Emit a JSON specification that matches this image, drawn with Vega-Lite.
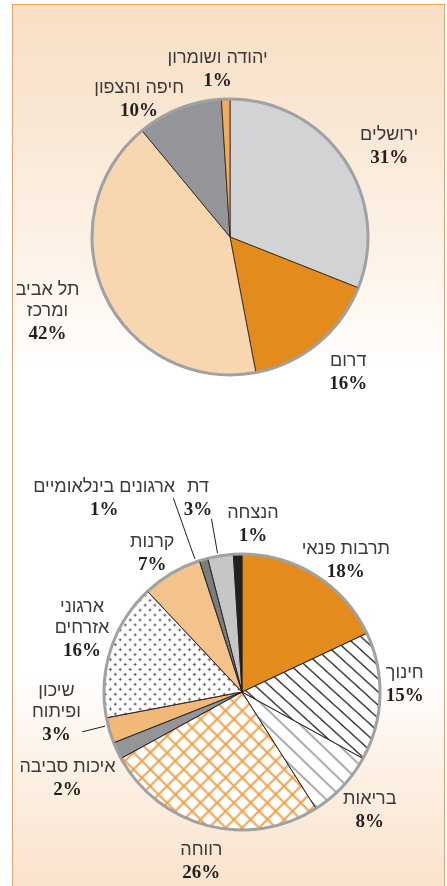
{
"$schema":"https://vega.github.io/schema/vega-lite/v6.json",
"width":431,"height":881,
"autosize":{"type":"none"},
"padding":{"left":13,"top":5,"right":3,"bottom":0},
"background":"#ffffff",
"config":{"view":{"stroke":"#eea24b","strokeWidth":2,"fill":"#fdf5ec"}},
"data":{"values":[
{"chart":"top","cat":"ירושלים","label":"ירושלים","share":0.31},
{"chart":"top","cat":"דרום","label":"דרום","share":0.16},
{"chart":"top","cat":"תל אביב ומרכז","label":"תל אביב\nומרכז","share":0.42},
{"chart":"top","cat":"חיפה והצפון","label":"חיפה והצפון","share":0.10},
{"chart":"top","cat":"יהודה ושומרון","label":"יהודה ושומרון","share":0.01},
{"chart":"bottom","cat":"תרבות פנאי","label":"תרבות פנאי","share":0.18},
{"chart":"bottom","cat":"חינוך","label":"חינוך","share":0.15},
{"chart":"bottom","cat":"בריאות","label":"בריאות","share":0.08},
{"chart":"bottom","cat":"רווחה","label":"רווחה","share":0.26},
{"chart":"bottom","cat":"איכות סביבה","label":"איכות סביבה","share":0.02},
{"chart":"bottom","cat":"שיכון ופיתוח","label":"שיכון\nופיתוח","share":0.03},
{"chart":"bottom","cat":"ארגוני אזרחים","label":"ארגוני\nאזרחים","share":0.16},
{"chart":"bottom","cat":"קרנות","label":"קרנות","share":0.07},
{"chart":"bottom","cat":"ארגונים בינלאומיים","label":"ארגונים בינלאומיים","share":0.01},
{"chart":"bottom","cat":"דת","label":"דת","share":0.03},
{"chart":"bottom","cat":"הנצחה","label":"הנצחה","share":0.01}
]},
"layer":[
{"transform":[{"filter":"datum.cat==='ירושלים'"}],
 "mark":{"type":"rect","color":{"x1":1,"y1":1,"x2":1,"y2":0,"gradient":"linear","stops":[{"offset":0,"color":"#fae3cd"},{"offset":0.12,"color":"#fcefe2"},{"offset":0.24,"color":"#ffffff"},{"offset":0.58,"color":"#ffffff"},{"offset":0.7,"color":"#fdf4ea"},{"offset":0.88,"color":"#f9e6d2"},{"offset":1,"color":"#f7dfc4"}]}},
 "encoding":{"x":{"value":0},"x2":{"value":"width"},"y":{"value":0},"y2":{"value":"height"}}},
{"encoding":{
  "x":{"field":"chart","type":"nominal","axis":null,"scale":{"type":"point","domain":["top","bottom"],"range":[217,229],"padding":0}},
  "y":{"field":"chart","type":"nominal","axis":null,"scale":{"type":"point","domain":["top","bottom"],"padding":0.46813,"align":0.5446}},
  "theta":{"field":"share","type":"quantitative","stack":true,"scale":{"domain":[0,1]}}
 },
 "layer":[
{"transform":[{"filter":"datum.chart==='top'"}],
 "layer":[
  {"mark":{"type":"arc","radius":138,"stroke":"#231f20","strokeWidth":0.8},
   "encoding":{"fill":{"condition":[
     {"test":"datum.cat==='ירושלים'","value":"#d1d3d4"},
     {"test":"datum.cat==='דרום'","value":"#e38b1d"},
     {"test":"datum.cat==='תל אביב ומרכז'","value":"#f8d6b0"},
     {"test":"datum.cat==='חיפה והצפון'","value":"#939598"}],"value":"#f1aa5c"}}},
  {"mark":{"type":"arc","radius":139.5,"radius2":136.5,"fill":"#a0a1a3"}},
  {"mark":{"type":"text","radius":184,"thetaOffset":0.0716,"font":"Liberation Sans","fontSize":18,"fill":"#3a3a3a","baseline":"alphabetic","align":"center","dy":-5,"lineBreak":"\n","lineHeight":21},
   "encoding":{"text":{"value":{"expr":"datum.cat === 'ירושלים' ? datum.label : ''"}}}},
  {"mark":{"type":"text","radius":184,"thetaOffset":0.0716,"font":"Liberation Serif","fontWeight":"bold","fontSize":19,"fill":"#231f20","baseline":"alphabetic","align":"center","dy":18},
   "encoding":{"text":{"value":{"expr":"datum.cat === 'ירושלים' ? format(datum.share, '.0%') : ''"}}}},
  {"mark":{"type":"text","radius":179,"thetaOffset":-0.030,"font":"Liberation Sans","fontSize":18,"fill":"#3a3a3a","baseline":"alphabetic","align":"center","dy":-5,"lineBreak":"\n","lineHeight":21},
   "encoding":{"text":{"value":{"expr":"datum.cat === 'דרום' ? datum.label : ''"}}}},
  {"mark":{"type":"text","radius":179,"thetaOffset":-0.030,"font":"Liberation Serif","fontWeight":"bold","fontSize":19,"fill":"#231f20","baseline":"alphabetic","align":"center","dy":18},
   "encoding":{"text":{"value":{"expr":"datum.cat === 'דרום' ? format(datum.share, '.0%') : ''"}}}},
  {"mark":{"type":"text","radius":201,"thetaOffset":0.007,"font":"Liberation Sans","fontSize":18,"fill":"#3a3a3a","baseline":"alphabetic","align":"center","dy":-26,"lineBreak":"\n","lineHeight":21},
   "encoding":{"text":{"value":{"expr":"datum.cat === 'תל אביב ומרכז' ? datum.label : ''"}}}},
  {"mark":{"type":"text","radius":201,"thetaOffset":0.007,"font":"Liberation Serif","fontWeight":"bold","fontSize":19,"fill":"#231f20","baseline":"alphabetic","align":"center","dy":18},
   "encoding":{"text":{"value":{"expr":"datum.cat === 'תל אביב ומרכז' ? format(datum.share, '.0%') : ''"}}}},
  {"mark":{"type":"text","radius":166,"thetaOffset":-0.2025,"font":"Liberation Sans","fontSize":18,"fill":"#3a3a3a","baseline":"alphabetic","align":"center","dy":-5,"lineBreak":"\n","lineHeight":21},
   "encoding":{"text":{"value":{"expr":"datum.cat === 'חיפה והצפון' ? datum.label : ''"}}}},
  {"mark":{"type":"text","radius":166,"thetaOffset":-0.2025,"font":"Liberation Serif","fontWeight":"bold","fontSize":19,"fill":"#231f20","baseline":"alphabetic","align":"center","dy":18},
   "encoding":{"text":{"value":{"expr":"datum.cat === 'חיפה והצפון' ? format(datum.share, '.0%') : ''"}}}},
  {"mark":{"type":"text","radius":169,"thetaOffset":-0.042,"font":"Liberation Sans","fontSize":18,"fill":"#3a3a3a","baseline":"alphabetic","align":"center","dy":-5,"lineBreak":"\n","lineHeight":21},
   "encoding":{"text":{"value":{"expr":"datum.cat === 'יהודה ושומרון' ? datum.label : ''"}}}},
  {"mark":{"type":"text","radius":169,"thetaOffset":-0.042,"font":"Liberation Serif","fontWeight":"bold","fontSize":19,"fill":"#231f20","baseline":"alphabetic","align":"center","dy":18},
   "encoding":{"text":{"value":{"expr":"datum.cat === 'יהודה ושומרון' ? format(datum.share, '.0%') : ''"}}}}
 ]},
{"transform":[{"filter":"datum.chart==='bottom'"}],
 "layer":[
  {"mark":{"type":"arc","radius":138},
   "encoding":{"fill":{"condition":[
     {"test":"datum.cat==='תרבות פנאי'","value":"#e38b1d"},
     {"test":"datum.cat==='חינוך'","value":{"gradient":"linear","x1":0,"y1":1,"x2":1,"y2":0,"stops":[
       {"offset":0.015,"color":"#ffffff"},{"offset":0.022,"color":"#222222"},{"offset":0.029,"color":"#ffffff"},
       {"offset":0.068,"color":"#ffffff"},{"offset":0.075,"color":"#222222"},{"offset":0.082,"color":"#ffffff"},
       {"offset":0.120,"color":"#ffffff"},{"offset":0.127,"color":"#222222"},{"offset":0.134,"color":"#ffffff"},
       {"offset":0.173,"color":"#ffffff"},{"offset":0.180,"color":"#222222"},{"offset":0.187,"color":"#ffffff"},
       {"offset":0.226,"color":"#ffffff"},{"offset":0.233,"color":"#222222"},{"offset":0.240,"color":"#ffffff"},
       {"offset":0.278,"color":"#ffffff"},{"offset":0.285,"color":"#222222"},{"offset":0.292,"color":"#ffffff"},
       {"offset":0.331,"color":"#ffffff"},{"offset":0.338,"color":"#222222"},{"offset":0.345,"color":"#ffffff"},
       {"offset":0.383,"color":"#ffffff"},{"offset":0.390,"color":"#222222"},{"offset":0.397,"color":"#ffffff"},
       {"offset":0.436,"color":"#ffffff"},{"offset":0.443,"color":"#222222"},{"offset":0.450,"color":"#ffffff"},
       {"offset":0.489,"color":"#ffffff"},{"offset":0.496,"color":"#222222"},{"offset":0.503,"color":"#ffffff"},
       {"offset":0.541,"color":"#ffffff"},{"offset":0.548,"color":"#222222"},{"offset":0.555,"color":"#ffffff"},
       {"offset":0.594,"color":"#ffffff"},{"offset":0.601,"color":"#222222"},{"offset":0.608,"color":"#ffffff"},
       {"offset":0.647,"color":"#ffffff"},{"offset":0.654,"color":"#222222"},{"offset":0.661,"color":"#ffffff"},
       {"offset":0.699,"color":"#ffffff"},{"offset":0.706,"color":"#222222"},{"offset":0.713,"color":"#ffffff"},
       {"offset":0.752,"color":"#ffffff"},{"offset":0.759,"color":"#222222"},{"offset":0.766,"color":"#ffffff"},
       {"offset":0.804,"color":"#ffffff"},{"offset":0.811,"color":"#222222"},{"offset":0.818,"color":"#ffffff"},
       {"offset":0.857,"color":"#ffffff"},{"offset":0.864,"color":"#222222"},{"offset":0.871,"color":"#ffffff"},
       {"offset":0.910,"color":"#ffffff"},{"offset":0.917,"color":"#222222"},{"offset":0.924,"color":"#ffffff"},
       {"offset":0.962,"color":"#ffffff"},{"offset":0.969,"color":"#222222"},{"offset":0.976,"color":"#ffffff"}]}},
     {"test":"datum.cat==='בריאות'","value":{"gradient":"linear","x1":0,"y1":1,"x2":1,"y2":0,"stops":[
       {"offset":0.020,"color":"#ffffff"},{"offset":0.030,"color":"#999999"},{"offset":0.040,"color":"#ffffff"},
       {"offset":0.091,"color":"#ffffff"},{"offset":0.101,"color":"#999999"},{"offset":0.111,"color":"#ffffff"},
       {"offset":0.163,"color":"#ffffff"},{"offset":0.173,"color":"#999999"},{"offset":0.183,"color":"#ffffff"},
       {"offset":0.234,"color":"#ffffff"},{"offset":0.244,"color":"#999999"},{"offset":0.254,"color":"#ffffff"},
       {"offset":0.306,"color":"#ffffff"},{"offset":0.316,"color":"#999999"},{"offset":0.326,"color":"#ffffff"},
       {"offset":0.377,"color":"#ffffff"},{"offset":0.387,"color":"#999999"},{"offset":0.397,"color":"#ffffff"},
       {"offset":0.449,"color":"#ffffff"},{"offset":0.459,"color":"#999999"},{"offset":0.469,"color":"#ffffff"},
       {"offset":0.520,"color":"#ffffff"},{"offset":0.530,"color":"#999999"},{"offset":0.540,"color":"#ffffff"},
       {"offset":0.591,"color":"#ffffff"},{"offset":0.601,"color":"#999999"},{"offset":0.611,"color":"#ffffff"},
       {"offset":0.663,"color":"#ffffff"},{"offset":0.673,"color":"#999999"},{"offset":0.683,"color":"#ffffff"},
       {"offset":0.734,"color":"#ffffff"},{"offset":0.744,"color":"#999999"},{"offset":0.754,"color":"#ffffff"},
       {"offset":0.806,"color":"#ffffff"},{"offset":0.816,"color":"#999999"},{"offset":0.826,"color":"#ffffff"},
       {"offset":0.877,"color":"#ffffff"},{"offset":0.887,"color":"#999999"},{"offset":0.897,"color":"#ffffff"},
       {"offset":0.949,"color":"#ffffff"},{"offset":0.959,"color":"#999999"},{"offset":0.969,"color":"#ffffff"}]}},
     {"test":"datum.cat==='רווחה'","value":{"gradient":"linear","x1":0,"y1":0,"x2":1.2,"y2":0.85,"stops":[
       {"offset":0.010,"color":"#ffffff"},{"offset":0.018,"color":"#ef9f45"},{"offset":0.026,"color":"#ffffff"},
       {"offset":0.058,"color":"#ffffff"},{"offset":0.066,"color":"#ef9f45"},{"offset":0.074,"color":"#ffffff"},
       {"offset":0.105,"color":"#ffffff"},{"offset":0.113,"color":"#ef9f45"},{"offset":0.121,"color":"#ffffff"},
       {"offset":0.153,"color":"#ffffff"},{"offset":0.161,"color":"#ef9f45"},{"offset":0.169,"color":"#ffffff"},
       {"offset":0.200,"color":"#ffffff"},{"offset":0.208,"color":"#ef9f45"},{"offset":0.216,"color":"#ffffff"},
       {"offset":0.248,"color":"#ffffff"},{"offset":0.256,"color":"#ef9f45"},{"offset":0.264,"color":"#ffffff"},
       {"offset":0.296,"color":"#ffffff"},{"offset":0.304,"color":"#ef9f45"},{"offset":0.312,"color":"#ffffff"},
       {"offset":0.343,"color":"#ffffff"},{"offset":0.351,"color":"#ef9f45"},{"offset":0.359,"color":"#ffffff"},
       {"offset":0.391,"color":"#ffffff"},{"offset":0.399,"color":"#ef9f45"},{"offset":0.407,"color":"#ffffff"},
       {"offset":0.439,"color":"#ffffff"},{"offset":0.447,"color":"#ef9f45"},{"offset":0.455,"color":"#ffffff"},
       {"offset":0.486,"color":"#ffffff"},{"offset":0.494,"color":"#ef9f45"},{"offset":0.502,"color":"#ffffff"},
       {"offset":0.534,"color":"#ffffff"},{"offset":0.542,"color":"#ef9f45"},{"offset":0.550,"color":"#ffffff"},
       {"offset":0.581,"color":"#ffffff"},{"offset":0.589,"color":"#ef9f45"},{"offset":0.597,"color":"#ffffff"},
       {"offset":0.629,"color":"#ffffff"},{"offset":0.637,"color":"#ef9f45"},{"offset":0.645,"color":"#ffffff"},
       {"offset":0.677,"color":"#ffffff"},{"offset":0.685,"color":"#ef9f45"},{"offset":0.693,"color":"#ffffff"},
       {"offset":0.724,"color":"#ffffff"},{"offset":0.732,"color":"#ef9f45"},{"offset":0.740,"color":"#ffffff"},
       {"offset":0.772,"color":"#ffffff"},{"offset":0.780,"color":"#ef9f45"},{"offset":0.788,"color":"#ffffff"},
       {"offset":0.820,"color":"#ffffff"},{"offset":0.828,"color":"#ef9f45"},{"offset":0.836,"color":"#ffffff"},
       {"offset":0.867,"color":"#ffffff"},{"offset":0.875,"color":"#ef9f45"},{"offset":0.883,"color":"#ffffff"},
       {"offset":0.915,"color":"#ffffff"},{"offset":0.923,"color":"#ef9f45"},{"offset":0.931,"color":"#ffffff"},
       {"offset":0.962,"color":"#ffffff"},{"offset":0.970,"color":"#ef9f45"},{"offset":0.978,"color":"#ffffff"}]}},
     {"test":"datum.cat==='ארגוני אזרחים'","value":{"gradient":"linear","x1":0,"y1":0,"x2":1.092,"y2":1,"stops":[
       {"offset":0.010,"color":"#ffffff"},{"offset":0.019,"color":"#3c3c3c"},{"offset":0.028,"color":"#ffffff"},
       {"offset":0.046,"color":"#ffffff"},{"offset":0.055,"color":"#3c3c3c"},{"offset":0.064,"color":"#ffffff"},
       {"offset":0.081,"color":"#ffffff"},{"offset":0.090,"color":"#3c3c3c"},{"offset":0.099,"color":"#ffffff"},
       {"offset":0.117,"color":"#ffffff"},{"offset":0.126,"color":"#3c3c3c"},{"offset":0.135,"color":"#ffffff"},
       {"offset":0.153,"color":"#ffffff"},{"offset":0.162,"color":"#3c3c3c"},{"offset":0.171,"color":"#ffffff"},
       {"offset":0.189,"color":"#ffffff"},{"offset":0.198,"color":"#3c3c3c"},{"offset":0.207,"color":"#ffffff"},
       {"offset":0.224,"color":"#ffffff"},{"offset":0.233,"color":"#3c3c3c"},{"offset":0.242,"color":"#ffffff"},
       {"offset":0.260,"color":"#ffffff"},{"offset":0.269,"color":"#3c3c3c"},{"offset":0.278,"color":"#ffffff"},
       {"offset":0.296,"color":"#ffffff"},{"offset":0.305,"color":"#3c3c3c"},{"offset":0.314,"color":"#ffffff"},
       {"offset":0.331,"color":"#ffffff"},{"offset":0.340,"color":"#3c3c3c"},{"offset":0.349,"color":"#ffffff"},
       {"offset":0.367,"color":"#ffffff"},{"offset":0.376,"color":"#3c3c3c"},{"offset":0.385,"color":"#ffffff"},
       {"offset":0.403,"color":"#ffffff"},{"offset":0.412,"color":"#3c3c3c"},{"offset":0.421,"color":"#ffffff"},
       {"offset":0.439,"color":"#ffffff"},{"offset":0.448,"color":"#3c3c3c"},{"offset":0.457,"color":"#ffffff"},
       {"offset":0.474,"color":"#ffffff"},{"offset":0.483,"color":"#3c3c3c"},{"offset":0.492,"color":"#ffffff"},
       {"offset":0.510,"color":"#ffffff"},{"offset":0.519,"color":"#3c3c3c"},{"offset":0.528,"color":"#ffffff"},
       {"offset":0.546,"color":"#ffffff"},{"offset":0.555,"color":"#3c3c3c"},{"offset":0.564,"color":"#ffffff"},
       {"offset":0.581,"color":"#ffffff"},{"offset":0.590,"color":"#3c3c3c"},{"offset":0.599,"color":"#ffffff"},
       {"offset":0.617,"color":"#ffffff"},{"offset":0.626,"color":"#3c3c3c"},{"offset":0.635,"color":"#ffffff"},
       {"offset":0.653,"color":"#ffffff"},{"offset":0.662,"color":"#3c3c3c"},{"offset":0.671,"color":"#ffffff"},
       {"offset":0.689,"color":"#ffffff"},{"offset":0.698,"color":"#3c3c3c"},{"offset":0.707,"color":"#ffffff"},
       {"offset":0.724,"color":"#ffffff"},{"offset":0.733,"color":"#3c3c3c"},{"offset":0.742,"color":"#ffffff"},
       {"offset":0.760,"color":"#ffffff"},{"offset":0.769,"color":"#3c3c3c"},{"offset":0.778,"color":"#ffffff"},
       {"offset":0.796,"color":"#ffffff"},{"offset":0.805,"color":"#3c3c3c"},{"offset":0.814,"color":"#ffffff"},
       {"offset":0.831,"color":"#ffffff"},{"offset":0.840,"color":"#3c3c3c"},{"offset":0.849,"color":"#ffffff"},
       {"offset":0.867,"color":"#ffffff"},{"offset":0.876,"color":"#3c3c3c"},{"offset":0.885,"color":"#ffffff"},
       {"offset":0.903,"color":"#ffffff"},{"offset":0.912,"color":"#3c3c3c"},{"offset":0.921,"color":"#ffffff"},
       {"offset":0.939,"color":"#ffffff"},{"offset":0.948,"color":"#3c3c3c"},{"offset":0.957,"color":"#ffffff"},
       {"offset":0.974,"color":"#ffffff"},{"offset":0.983,"color":"#3c3c3c"},{"offset":0.992,"color":"#ffffff"}]}},
     {"test":"datum.cat==='איכות סביבה'","value":"#939598"},
     {"test":"datum.cat==='שיכון ופיתוח'","value":"#f2b877"},
     {"test":"datum.cat==='קרנות'","value":"#f4c38c"},
     {"test":"datum.cat==='ארגונים בינלאומיים'","value":"#7d7d7d"},
     {"test":"datum.cat==='דת'","value":"#c6c6c6"}],"value":"#231f20"}}},
  {"mark":{"type":"arc","radius":138},
   "encoding":{"fill":{"condition":{"test":"datum.cat==='רווחה'","value":{"gradient":"linear","x1":0,"y1":1,"x2":1.2,"y2":0.15,"stops":[
       {"offset":0.010,"color":"rgba(239,159,69,0)"},{"offset":0.018,"color":"#ef9f45"},{"offset":0.026,"color":"rgba(239,159,69,0)"},
       {"offset":0.058,"color":"rgba(239,159,69,0)"},{"offset":0.066,"color":"#ef9f45"},{"offset":0.074,"color":"rgba(239,159,69,0)"},
       {"offset":0.105,"color":"rgba(239,159,69,0)"},{"offset":0.113,"color":"#ef9f45"},{"offset":0.121,"color":"rgba(239,159,69,0)"},
       {"offset":0.153,"color":"rgba(239,159,69,0)"},{"offset":0.161,"color":"#ef9f45"},{"offset":0.169,"color":"rgba(239,159,69,0)"},
       {"offset":0.200,"color":"rgba(239,159,69,0)"},{"offset":0.208,"color":"#ef9f45"},{"offset":0.216,"color":"rgba(239,159,69,0)"},
       {"offset":0.248,"color":"rgba(239,159,69,0)"},{"offset":0.256,"color":"#ef9f45"},{"offset":0.264,"color":"rgba(239,159,69,0)"},
       {"offset":0.296,"color":"rgba(239,159,69,0)"},{"offset":0.304,"color":"#ef9f45"},{"offset":0.312,"color":"rgba(239,159,69,0)"},
       {"offset":0.343,"color":"rgba(239,159,69,0)"},{"offset":0.351,"color":"#ef9f45"},{"offset":0.359,"color":"rgba(239,159,69,0)"},
       {"offset":0.391,"color":"rgba(239,159,69,0)"},{"offset":0.399,"color":"#ef9f45"},{"offset":0.407,"color":"rgba(239,159,69,0)"},
       {"offset":0.439,"color":"rgba(239,159,69,0)"},{"offset":0.447,"color":"#ef9f45"},{"offset":0.455,"color":"rgba(239,159,69,0)"},
       {"offset":0.486,"color":"rgba(239,159,69,0)"},{"offset":0.494,"color":"#ef9f45"},{"offset":0.502,"color":"rgba(239,159,69,0)"},
       {"offset":0.534,"color":"rgba(239,159,69,0)"},{"offset":0.542,"color":"#ef9f45"},{"offset":0.550,"color":"rgba(239,159,69,0)"},
       {"offset":0.581,"color":"rgba(239,159,69,0)"},{"offset":0.589,"color":"#ef9f45"},{"offset":0.597,"color":"rgba(239,159,69,0)"},
       {"offset":0.629,"color":"rgba(239,159,69,0)"},{"offset":0.637,"color":"#ef9f45"},{"offset":0.645,"color":"rgba(239,159,69,0)"},
       {"offset":0.677,"color":"rgba(239,159,69,0)"},{"offset":0.685,"color":"#ef9f45"},{"offset":0.693,"color":"rgba(239,159,69,0)"},
       {"offset":0.724,"color":"rgba(239,159,69,0)"},{"offset":0.732,"color":"#ef9f45"},{"offset":0.740,"color":"rgba(239,159,69,0)"},
       {"offset":0.772,"color":"rgba(239,159,69,0)"},{"offset":0.780,"color":"#ef9f45"},{"offset":0.788,"color":"rgba(239,159,69,0)"},
       {"offset":0.820,"color":"rgba(239,159,69,0)"},{"offset":0.828,"color":"#ef9f45"},{"offset":0.836,"color":"rgba(239,159,69,0)"},
       {"offset":0.867,"color":"rgba(239,159,69,0)"},{"offset":0.875,"color":"#ef9f45"},{"offset":0.883,"color":"rgba(239,159,69,0)"},
       {"offset":0.915,"color":"rgba(239,159,69,0)"},{"offset":0.923,"color":"#ef9f45"},{"offset":0.931,"color":"rgba(239,159,69,0)"},
       {"offset":0.962,"color":"rgba(239,159,69,0)"},{"offset":0.970,"color":"#ef9f45"},{"offset":0.978,"color":"rgba(239,159,69,0)"}]}},"value":"transparent"}}},
  {"mark":{"type":"arc","radius":138,"blend":"lighten"},
   "encoding":{"fill":{"condition":{"test":"datum.cat==='ארגוני אזרחים'","value":{"gradient":"linear","x1":0,"y1":1,"x2":1.092,"y2":0.0001,"stops":[
       {"offset":0.010,"color":"#ffffff"},{"offset":0.019,"color":"#3c3c3c"},{"offset":0.028,"color":"#ffffff"},
       {"offset":0.046,"color":"#ffffff"},{"offset":0.055,"color":"#3c3c3c"},{"offset":0.064,"color":"#ffffff"},
       {"offset":0.081,"color":"#ffffff"},{"offset":0.090,"color":"#3c3c3c"},{"offset":0.099,"color":"#ffffff"},
       {"offset":0.117,"color":"#ffffff"},{"offset":0.126,"color":"#3c3c3c"},{"offset":0.135,"color":"#ffffff"},
       {"offset":0.153,"color":"#ffffff"},{"offset":0.162,"color":"#3c3c3c"},{"offset":0.171,"color":"#ffffff"},
       {"offset":0.189,"color":"#ffffff"},{"offset":0.198,"color":"#3c3c3c"},{"offset":0.207,"color":"#ffffff"},
       {"offset":0.224,"color":"#ffffff"},{"offset":0.233,"color":"#3c3c3c"},{"offset":0.242,"color":"#ffffff"},
       {"offset":0.260,"color":"#ffffff"},{"offset":0.269,"color":"#3c3c3c"},{"offset":0.278,"color":"#ffffff"},
       {"offset":0.296,"color":"#ffffff"},{"offset":0.305,"color":"#3c3c3c"},{"offset":0.314,"color":"#ffffff"},
       {"offset":0.331,"color":"#ffffff"},{"offset":0.340,"color":"#3c3c3c"},{"offset":0.349,"color":"#ffffff"},
       {"offset":0.367,"color":"#ffffff"},{"offset":0.376,"color":"#3c3c3c"},{"offset":0.385,"color":"#ffffff"},
       {"offset":0.403,"color":"#ffffff"},{"offset":0.412,"color":"#3c3c3c"},{"offset":0.421,"color":"#ffffff"},
       {"offset":0.439,"color":"#ffffff"},{"offset":0.448,"color":"#3c3c3c"},{"offset":0.457,"color":"#ffffff"},
       {"offset":0.474,"color":"#ffffff"},{"offset":0.483,"color":"#3c3c3c"},{"offset":0.492,"color":"#ffffff"},
       {"offset":0.510,"color":"#ffffff"},{"offset":0.519,"color":"#3c3c3c"},{"offset":0.528,"color":"#ffffff"},
       {"offset":0.546,"color":"#ffffff"},{"offset":0.555,"color":"#3c3c3c"},{"offset":0.564,"color":"#ffffff"},
       {"offset":0.581,"color":"#ffffff"},{"offset":0.590,"color":"#3c3c3c"},{"offset":0.599,"color":"#ffffff"},
       {"offset":0.617,"color":"#ffffff"},{"offset":0.626,"color":"#3c3c3c"},{"offset":0.635,"color":"#ffffff"},
       {"offset":0.653,"color":"#ffffff"},{"offset":0.662,"color":"#3c3c3c"},{"offset":0.671,"color":"#ffffff"},
       {"offset":0.689,"color":"#ffffff"},{"offset":0.698,"color":"#3c3c3c"},{"offset":0.707,"color":"#ffffff"},
       {"offset":0.724,"color":"#ffffff"},{"offset":0.733,"color":"#3c3c3c"},{"offset":0.742,"color":"#ffffff"},
       {"offset":0.760,"color":"#ffffff"},{"offset":0.769,"color":"#3c3c3c"},{"offset":0.778,"color":"#ffffff"},
       {"offset":0.796,"color":"#ffffff"},{"offset":0.805,"color":"#3c3c3c"},{"offset":0.814,"color":"#ffffff"},
       {"offset":0.831,"color":"#ffffff"},{"offset":0.840,"color":"#3c3c3c"},{"offset":0.849,"color":"#ffffff"},
       {"offset":0.867,"color":"#ffffff"},{"offset":0.876,"color":"#3c3c3c"},{"offset":0.885,"color":"#ffffff"},
       {"offset":0.903,"color":"#ffffff"},{"offset":0.912,"color":"#3c3c3c"},{"offset":0.921,"color":"#ffffff"},
       {"offset":0.939,"color":"#ffffff"},{"offset":0.948,"color":"#3c3c3c"},{"offset":0.957,"color":"#ffffff"},
       {"offset":0.974,"color":"#ffffff"},{"offset":0.983,"color":"#3c3c3c"},{"offset":0.992,"color":"#ffffff"}]}},"value":"transparent"}}},
  {"mark":{"type":"arc","radius":138,"fill":"transparent","stroke":"#231f20","strokeWidth":0.8}},
  {"mark":{"type":"arc","radius":139.5,"radius2":136.5,"fill":"#a0a1a3"}},
  {"mark":{"type":"arc","radius":206,"radius2":141,"thetaOffset":-0.02618,"fill":"transparent","strokeWidth":1,"strokeDash":[0,13.3,64.6,3000]},
   "encoding":{"stroke":{"condition":{"test":"datum.cat==='ארגונים בינלאומיים'","value":"#231f20"},"value":"transparent"}}},
  {"mark":{"type":"arc","radius":176,"radius2":141,"thetaOffset":0.0768,"fill":"transparent","strokeWidth":1,"strokeDash":[0,33.5,34.6,3000]},
   "encoding":{"stroke":{"condition":{"test":"datum.cat==='דת'","value":"#231f20"},"value":"transparent"}}},
  {"mark":{"type":"arc","radius":165,"radius2":141,"thetaOffset":0.1326,"fill":"transparent","strokeWidth":1,"strokeDash":[0,31.4,23.6,3000]},
   "encoding":{"stroke":{"condition":{"test":"datum.cat==='שיכון ופיתוח'","value":"#231f20"},"value":"transparent"}}},
  {"mark":{"type":"text","radius":173,"thetaOffset":-0.014,"font":"Liberation Sans","fontSize":18,"fill":"#3a3a3a","baseline":"alphabetic","align":"center","dy":-5,"lineBreak":"\n","lineHeight":21},
   "encoding":{"text":{"value":{"expr":"indexof(['בריאות','רווחה'], datum.cat) >= 0 ? datum.label : ''"}}}},
  {"mark":{"type":"text","radius":173,"thetaOffset":-0.014,"font":"Liberation Serif","fontWeight":"bold","fontSize":19,"fill":"#231f20","baseline":"alphabetic","align":"center","dy":18},
   "encoding":{"text":{"value":{"expr":"indexof(['בריאות','רווחה'], datum.cat) >= 0 ? format(datum.share, '.0%') : ''"}}}},
  {"mark":{"type":"text","radius":163,"thetaOffset":-0.0873,"font":"Liberation Sans","fontSize":18,"fill":"#3a3a3a","baseline":"alphabetic","align":"center","dy":-5,"lineBreak":"\n","lineHeight":21},
   "encoding":{"text":{"value":{"expr":"datum.cat === 'חינוך' ? datum.label : ''"}}}},
  {"mark":{"type":"text","radius":163,"thetaOffset":-0.0873,"font":"Liberation Serif","fontWeight":"bold","fontSize":19,"fill":"#231f20","baseline":"alphabetic","align":"center","dy":18},
   "encoding":{"text":{"value":{"expr":"datum.cat === 'חינוך' ? format(datum.share, '.0%') : ''"}}}},
  {"mark":{"type":"text","radius":166,"thetaOffset":-0.037,"font":"Liberation Sans","fontSize":18,"fill":"#3a3a3a","baseline":"alphabetic","align":"center","dy":-5,"lineBreak":"\n","lineHeight":21},
   "encoding":{"text":{"value":{"expr":"datum.cat === 'קרנות' ? datum.label : ''"}}}},
  {"mark":{"type":"text","radius":166,"thetaOffset":-0.037,"font":"Liberation Serif","fontWeight":"bold","fontSize":19,"fill":"#231f20","baseline":"alphabetic","align":"center","dy":18},
   "encoding":{"text":{"value":{"expr":"datum.cat === 'קרנות' ? format(datum.share, '.0%') : ''"}}}},
  {"mark":{"type":"text","radius":169,"thetaOffset":0.096,"font":"Liberation Sans","fontSize":18,"fill":"#3a3a3a","baseline":"alphabetic","align":"center","dy":-5,"lineBreak":"\n","lineHeight":21},
   "encoding":{"text":{"value":{"expr":"indexof(['תרבות פנאי','הנצחה'], datum.cat) >= 0 ? datum.label : ''"}}}},
  {"mark":{"type":"text","radius":169,"thetaOffset":0.096,"font":"Liberation Serif","fontWeight":"bold","fontSize":19,"fill":"#231f20","baseline":"alphabetic","align":"center","dy":18},
   "encoding":{"text":{"value":{"expr":"indexof(['תרבות פנאי','הנצחה'], datum.cat) >= 0 ? format(datum.share, '.0%') : ''"}}}},
  {"mark":{"type":"text","radius":169,"thetaOffset":0.014,"font":"Liberation Sans","fontSize":18,"fill":"#3a3a3a","baseline":"alphabetic","align":"center","dy":-26,"lineBreak":"\n","lineHeight":21},
   "encoding":{"text":{"value":{"expr":"datum.cat === 'ארגוני אזרחים' ? datum.label : ''"}}}},
  {"mark":{"type":"text","radius":169,"thetaOffset":0.014,"font":"Liberation Serif","fontWeight":"bold","fontSize":19,"fill":"#231f20","baseline":"alphabetic","align":"center","dy":18},
   "encoding":{"text":{"value":{"expr":"datum.cat === 'ארגוני אזרחים' ? format(datum.share, '.0%') : ''"}}}},
  {"mark":{"type":"text","radius":194,"thetaOffset":-0.012,"font":"Liberation Sans","fontSize":18,"fill":"#3a3a3a","baseline":"alphabetic","align":"center","dy":-5,"lineBreak":"\n","lineHeight":21},
   "encoding":{"text":{"value":{"expr":"datum.cat === 'איכות סביבה' ? datum.label : ''"}}}},
  {"mark":{"type":"text","radius":194,"thetaOffset":-0.012,"font":"Liberation Serif","fontWeight":"bold","fontSize":19,"fill":"#231f20","baseline":"alphabetic","align":"center","dy":18},
   "encoding":{"text":{"value":{"expr":"datum.cat === 'איכות סביבה' ? format(datum.share, '.0%') : ''"}}}},
  {"mark":{"type":"text","radius":188,"thetaOffset":0.12,"font":"Liberation Sans","fontSize":18,"fill":"#3a3a3a","baseline":"alphabetic","align":"center","dy":-26,"lineBreak":"\n","lineHeight":21},
   "encoding":{"text":{"value":{"expr":"datum.cat === 'שיכון ופיתוח' ? datum.label : ''"}}}},
  {"mark":{"type":"text","radius":188,"thetaOffset":0.12,"font":"Liberation Serif","fontWeight":"bold","fontSize":19,"fill":"#231f20","baseline":"alphabetic","align":"center","dy":18},
   "encoding":{"text":{"value":{"expr":"datum.cat === 'שיכון ופיתוח' ? format(datum.share, '.0%') : ''"}}}},
  {"mark":{"type":"text","radius":239,"thetaOffset":-0.332,"font":"Liberation Sans","fontSize":18,"fill":"#3a3a3a","baseline":"alphabetic","align":"center","dy":-5,"lineBreak":"\n","lineHeight":21},
   "encoding":{"text":{"value":{"expr":"datum.cat === 'ארגונים בינלאומיים' ? datum.label : ''"}}}},
  {"mark":{"type":"text","radius":239,"thetaOffset":-0.332,"font":"Liberation Serif","fontWeight":"bold","fontSize":19,"fill":"#231f20","baseline":"alphabetic","align":"center","dy":18},
   "encoding":{"text":{"value":{"expr":"datum.cat === 'ארגונים בינלאומיים' ? format(datum.share, '.0%') : ''"}}}},
  {"mark":{"type":"text","radius":200,"thetaOffset":-0.065,"font":"Liberation Sans","fontSize":18,"fill":"#3a3a3a","baseline":"alphabetic","align":"center","dy":-5,"lineBreak":"\n","lineHeight":21},
   "encoding":{"text":{"value":{"expr":"datum.cat === 'דת' ? datum.label : ''"}}}},
  {"mark":{"type":"text","radius":200,"thetaOffset":-0.065,"font":"Liberation Serif","fontWeight":"bold","fontSize":19,"fill":"#231f20","baseline":"alphabetic","align":"center","dy":18},
   "encoding":{"text":{"value":{"expr":"datum.cat === 'דת' ? format(datum.share, '.0%') : ''"}}}}
 ]}
 ]}
]
}
